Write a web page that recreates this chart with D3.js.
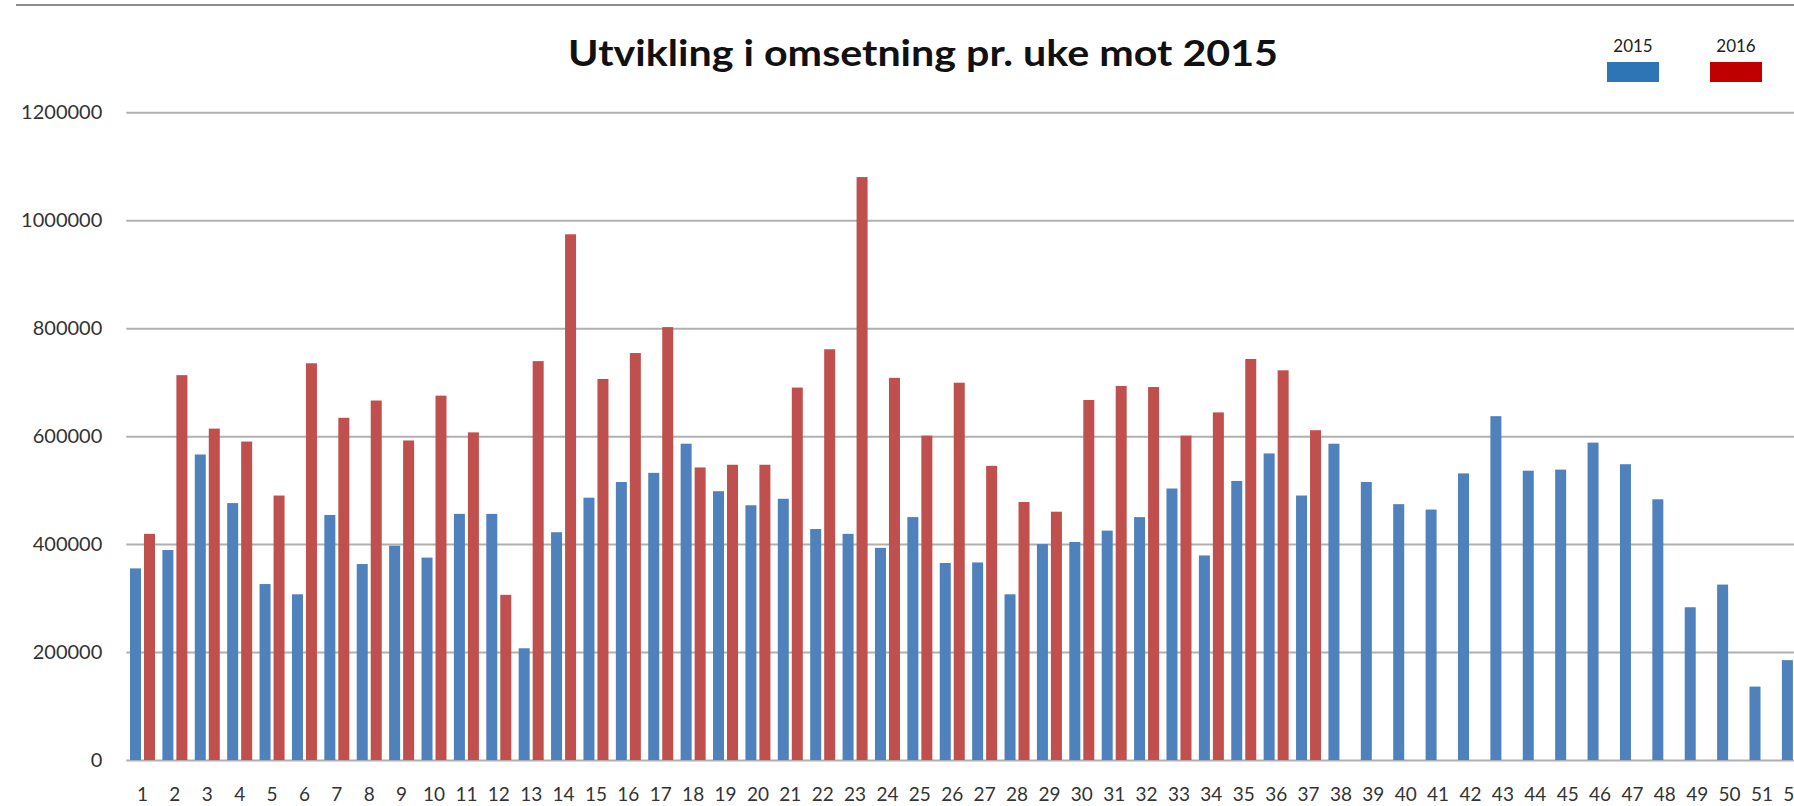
<!DOCTYPE html>
<html>
<head>
<meta charset="utf-8">
<script src="https://cdn.jsdelivr.net/npm/d3@7"></script>
<style>
  html, body { margin: 0; padding: 0; background: #fff; overflow: hidden; }
  svg { display: block; }
  .axis text { font-family: Lato, "Open Sans", sans-serif; fill: #333; }
</style>
</head>
<body>
<svg id="chart" width="1794" height="806"></svg>
<script>
// weekly turnover
var weeks = [1, 2, 3, 4, 5, 6, 7, 8, 9, 10, 11, 12, 13, 14, 15, 16, 17, 18, 19, 20,
    21, 22, 23, 24, 25, 26, 27, 28, 29, 30, 31, 32, 33, 34, 35, 36, 37, 38, 39, 40,
    41, 42, 43, 44, 45, 46, 47, 48, 49, 50, 51, 52];

var sales2015 = [355000, 389000, 566000, 476000, 326000, 307000, 454000, 363000, 397000, 375000,
    456000, 456000, 207000, 422000, 486000, 515000, 532000, 586000, 498000, 472000,
    484000, 428000, 419000, 393000, 450000, 365000, 366000, 307000, 400000, 404000,
    425000, 450000, 503000, 379000, 517000, 568000, 490000, 586000, 515000, 474000,
    464000, 531000, 637000, 536000, 538000, 588000, 548000, 483000, 283000, 325000,
    136000, 185000];

var sales2016 = [419000, 713000, 614000, 590000, 490000, 735000, 634000, 666000, 592000, 675000,
    607000, 306000, 739000, 974000, 706000, 754000, 802000, 542000, 547000, 547000,
    690000, 761000, 1080000, 708000, 601000, 699000, 545000, 478000, 460000, 667000,
    693000, 691000, 601000, 644000, 743000, 722000, 611000];

var seriesNames = ["2015", "2016"];
var yTicks = [0, 200000, 400000, 600000, 800000, 1000000, 1200000];
var title = "Utvikling i omsetning pr. uke mot 2015";

var barColors = { "2015": "#4F81BD", "2016": "#C0504D" };
var legendColors = { "2015": "#2E75B6", "2016": "#C00000" };

var svg = d3.select("#chart");

// plot area runs past the right edge, like the cropped original
var plot = { left: 126.3, top: 112.3, bottom: 760, step: 32.39 };
var plotRight = plot.left + plot.step * weeks.length;

var x0 = d3.scaleBand()
    .domain(weeks)
    .range([plot.left, plotRight])
    .padding(0);

var x1 = d3.scaleBand()
    .domain(seriesNames)
    .range([3.7, 28.7])
    .paddingInner(0.214);

var y = d3.scaleLinear()
    .domain([0, 1200000])
    .range([plot.bottom, plot.top]);

// top border of the chart frame
svg.append("line")
    .attr("x1", 16).attr("x2", 1794)
    .attr("y1", 5).attr("y2", 5)
    .attr("stroke", "#8c8c8c")
    .attr("stroke-width", 2);

// title
var titleText = svg.append("text")
    .attr("x", 923)
    .attr("y", 66)
    .attr("text-anchor", "middle")
    .style("font-family", "Lato, 'Open Sans', sans-serif")
    .style("font-weight", 700)
    .style("font-size", "36px")
    .style("fill", "#111")
    .text(title);
if (Math.abs(titleText.node().getComputedTextLength() - 710) > 8) {
    titleText.attr("textLength", 710).attr("lengthAdjust", "spacingAndGlyphs");
}

// y axis with gridlines
var yAxis = svg.append("g")
    .attr("class", "axis y-axis")
    .attr("transform", "translate(" + plot.left + ",0)")
    .call(d3.axisLeft(y)
        .tickValues(yTicks)
        .tickSize(-(plotRight - plot.left))
        .tickPadding(24)
        .tickFormat(d3.format("d")));
yAxis.select(".domain").remove();
yAxis.selectAll(".tick line")
    .attr("stroke", "#b0b0b0")
    .attr("stroke-width", 2);
yAxis.selectAll(".tick text")
    .style("font-size", "20px");

// bars
seriesNames.forEach(function(name, si) {
    var values = si === 0 ? sales2015 : sales2016;
    svg.append("g")
        .attr("class", "series s" + name)
        .selectAll("rect")
        .data(values.map(function(v, i) { return { week: weeks[i], value: v }; }))
        .join("rect")
        .attr("x", function(d) { return x0(d.week) + x1(name); })
        .attr("width", x1.bandwidth())
        .attr("y", function(d) { return y(d.value); })
        .attr("height", function(d) { return y(0) - y(d.value); })
        .attr("fill", barColors[name]);
});

// x axis labels
var xAxis = svg.append("g")
    .attr("class", "axis x-axis")
    .attr("transform", "translate(0," + plot.bottom + ")")
    .call(d3.axisBottom(x0).tickSize(0).tickPadding(28));
xAxis.select(".domain").remove();
xAxis.selectAll(".tick text")
    .style("font-size", "19px");

// legend
var legendX = d3.scalePoint()
    .domain(seriesNames)
    .range([1633, 1736]);

var legend = svg.append("g")
    .attr("class", "legend")
    .selectAll("g")
    .data(seriesNames)
    .join("g")
    .attr("transform", function(d) { return "translate(" + legendX(d) + ",0)"; });

legend.append("text")
    .attr("y", 52)
    .attr("text-anchor", "middle")
    .style("font-family", "Lato, 'Open Sans', sans-serif")
    .style("font-size", "17px")
    .style("fill", "#222")
    .text(function(d) { return d; });

legend.append("rect")
    .attr("x", -26)
    .attr("y", 62)
    .attr("width", 52)
    .attr("height", 20)
    .attr("fill", function(d) { return legendColors[d]; });
</script>
</body>
</html>
